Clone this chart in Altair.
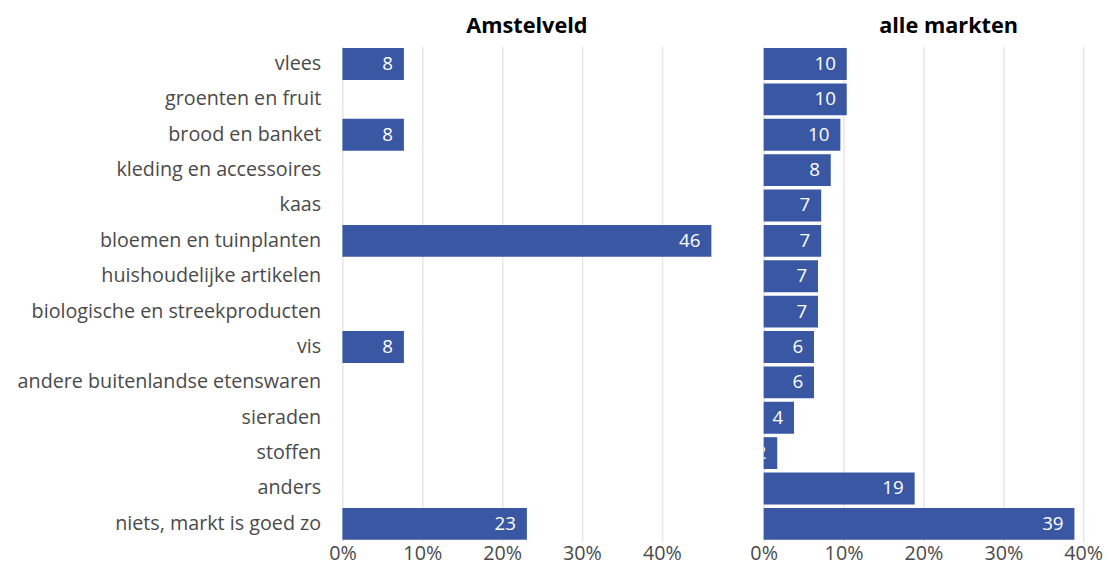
import altair as alt
import pandas as pd

categories = [
    "vlees", "groenten en fruit", "brood en banket", "kleding en accessoires",
    "kaas", "bloemen en tuinplanten", "huishoudelijke artikelen",
    "biologische en streekproducten", "vis", "andere buitenlandse etenswaren",
    "sieraden", "stoffen", "anders", "niets, markt is goed zo",
]
amstelveld = [7.7, 0, 7.7, 0, 0, 46.2, 0, 0, 7.7, 0, 0, 0, 0, 23.1]
alle_markten = [10.4, 10.4, 9.6, 8.4, 7.2, 7.2, 6.8, 6.8, 6.3, 6.3, 3.8, 1.7, 18.9, 38.9]

FONT = "Open Sans"
BAR = "#3a57a3"
LABEL = "#4a4a4a"
H = 502

def panel(values, title, width, xmax, show_y, title_dx=0):
    df = pd.DataFrame({"cat": categories, "val": values})
    df = df[df["val"] > 0]
    y = alt.Y(
        "cat:N", sort=categories, title=None,
        scale=alt.Scale(domain=categories, paddingInner=0.1, paddingOuter=0.05),
        axis=alt.Axis(labelFontSize=20, labelColor=LABEL, labelFont=FONT,
                      ticks=False, domain=False, labelPadding=22, labelLimit=400)
        if show_y else None,
    )
    x = alt.X(
        "val:Q", title=None,
        scale=alt.Scale(domain=[0, xmax], nice=False),
        axis=alt.Axis(values=[0, 10, 20, 30, 40], labelExpr="datum.value + '%'",
                      labelFontSize=20, labelColor=LABEL, labelFont=FONT,
                      ticks=False, domain=False, grid=True, gridColor="#e6e6e6",
                      gridWidth=1.5, labelPadding=2, labelFlush=False),
    )
    base = alt.Chart(df).encode(y=y, x=x)
    bars = base.mark_bar(color=BAR)
    text = base.mark_text(align="right", dx=-11, color="white", fontSize=19,
                          font=FONT, clip=True).encode(text=alt.Text("val:Q", format=".0f"))
    return alt.layer(bars, text).properties(
        width=width, height=H,
        title=alt.TitleParams(title, fontSize=22, font=FONT, fontWeight="bold",
                              color="#000000", anchor="middle", offset=8, dx=title_dx),
    )

left = panel(amstelveld, "Amstelveld", 374, 46.2, True)
right = panel(alle_markten, "alle markten", 345, 42.6, False, title_dx=15)

chart = alt.hconcat(left, right, spacing=39).configure_view(stroke=None).properties(
    padding={"left": 9, "top": 4, "right": 0, "bottom": 0})

chart.save("out.html", embed_options={"renderer": "svg", "actions": False})
